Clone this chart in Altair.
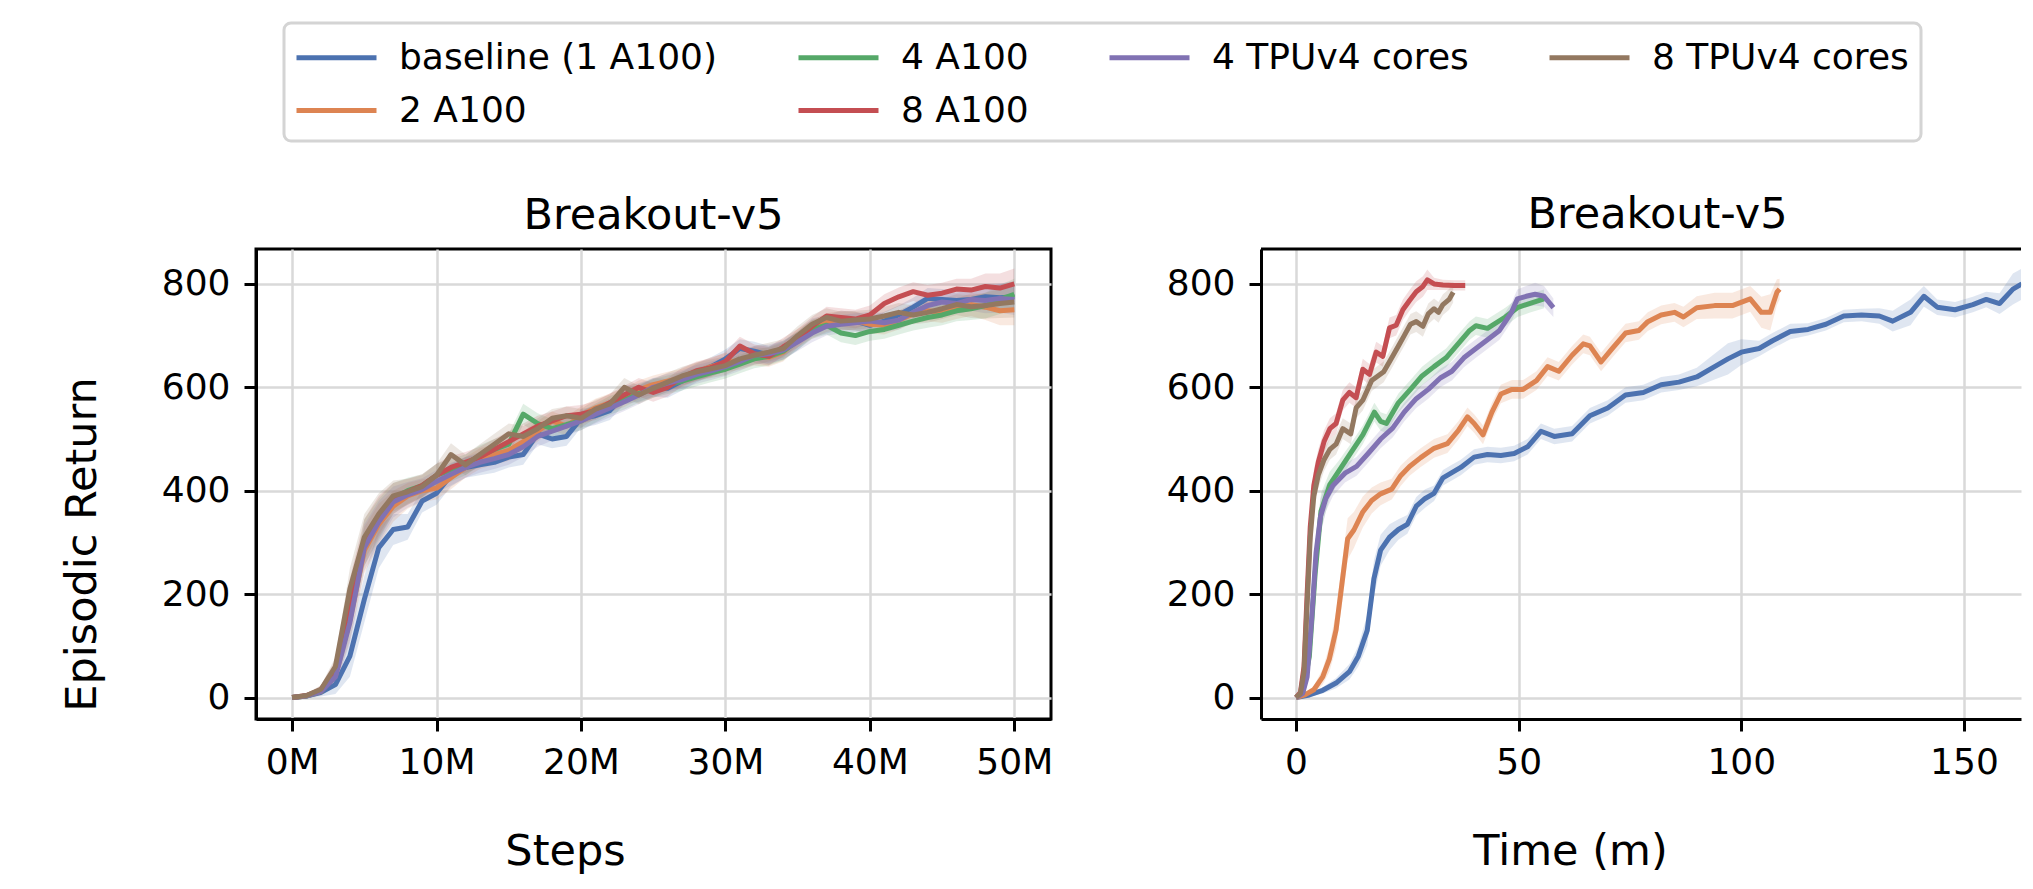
import altair as alt
import pandas as pd

# ---------------- data ----------------
SERIES = ["baseline (1 A100)", "2 A100", "4 A100", "8 A100", "4 TPUv4 cores", "8 TPUv4 cores"]
COLORS = ["#4C72B0", "#DD8452", "#55A868", "#C44E52", "#8172B3", "#937860"]
# order of the colour domain; Vega fills a 4-column legend so that this order shows
# row 1: baseline, 4 A100, 4 TPUv4, 8 TPUv4 / row 2: 2 A100, 8 A100 (as in the figure)
LEGEND_ORDER = ["baseline (1 A100)", "8 TPUv4 cores", "4 A100", "2 A100", "4 TPUv4 cores", "8 A100"]

STEP_TICKS = [0, 10, 20, 30, 40, 50]
TIME_TICKS = [0, 50, 100, 150]
RETURN_TICKS = [0, 200, 400, 600, 800]

# left panel: episodic return every 1M steps
STEPS_M = list(range(51))
STEP_BASELINE = [0, 3, 10, 25, 80, 190, 290, 325, 330, 380, 395, 430, 445, 450, 455, 465, 470, 510, 500, 505,
                 540, 545, 555, 585, 590, 600, 598, 612, 628, 640, 655, 675, 670, 662, 672, 690, 715, 722, 730, 728,
                 720, 728, 740, 755, 772, 770, 768, 770, 775, 773, 775]
STEP_2A100 = [0, 3, 12, 42, 150, 285, 335, 370, 390, 400, 405, 425, 445, 462, 470, 478, 495, 515, 535, 525,
              545, 560, 570, 580, 595, 605, 612, 618, 630, 640, 648, 652, 660, 658, 668, 695, 712, 725, 730, 728,
              722, 720, 730, 742, 748, 745, 752, 760, 755, 748, 750]
STEP_4A100 = [0, 3, 13, 45, 160, 300, 345, 385, 400, 410, 430, 440, 450, 468, 480, 490, 548, 530, 520, 528,
              535, 550, 565, 575, 588, 598, 605, 612, 620, 628, 635, 645, 655, 660, 670, 690, 712, 720, 705, 700,
              708, 712, 720, 728, 735, 740, 748, 752, 758, 770, 780]
STEP_8A100 = [0, 4, 15, 55, 190, 300, 350, 385, 398, 410, 430, 445, 455, 465, 480, 495, 510, 525, 535, 545,
              548, 555, 570, 585, 600, 590, 600, 620, 632, 638, 650, 680, 665, 660, 678, 695, 718, 738, 735, 732,
              740, 762, 775, 785, 778, 782, 790, 788, 795, 792, 800]
STEP_4TPU = [0, 3, 12, 40, 145, 290, 340, 378, 392, 402, 418, 432, 445, 455, 462, 470, 485, 505, 515, 525,
             535, 548, 560, 572, 585, 600, 608, 615, 625, 632, 640, 650, 662, 665, 672, 688, 705, 718, 722, 725,
             728, 725, 730, 745, 758, 765, 762, 770, 768, 772, 770]
STEP_8TPU = [0, 4, 16, 60, 210, 310, 355, 390, 398, 408, 430, 470, 450, 470, 490, 510, 505, 520, 540, 545,
             540, 558, 568, 600, 585, 598, 610, 622, 630, 636, 642, 655, 662, 668, 675, 700, 722, 735, 728, 730,
             732, 738, 745, 740, 745, 752, 760, 756, 758, 762, 765]
STEP_SPREAD = [0, 4, 8, 18, 40, 45, 40, 30, 25, 22, 22, 22, 20, 20, 20, 20, 20, 20, 18, 18,
               18, 18, 18, 18, 18, 18, 18, 18, 18, 18, 18, 18, 18, 18, 18, 18, 18, 18, 18, 18,
               18, 18, 18, 18, 20, 20, 20, 22, 25, 28, 30]

# right panel: episodic return against wall-clock minutes
T_BASELINE = [0, 3, 6, 9, 12, 14, 16, 17.5, 19, 21, 23, 25, 27, 29, 31, 33, 35, 37, 40, 43,
              46, 49, 52, 55, 58, 62, 66, 70, 74, 78, 82, 86, 90, 94, 97, 100, 104, 107, 111, 115,
              119, 123, 127, 131, 134, 138, 141, 144, 148, 152, 155, 158, 161, 163]
R_BASELINE = [0, 5, 14, 28, 50, 80, 130, 230, 285, 310, 325, 335, 370, 385, 395, 425, 435, 445, 465, 470,
              468, 472, 485, 515, 505, 510, 545, 560, 585, 590, 605, 610, 620, 640, 655, 668, 675, 690, 708, 712,
              722, 738, 740, 738, 728, 745, 776, 755, 750, 760, 770, 762, 790, 800]
S_BASELINE = [0, 3, 6, 10, 15, 20, 30, 35, 30, 25, 20, 18, 18, 18, 15, 15, 15, 15, 15, 15,
              15, 15, 15, 15, 15, 15, 15, 15, 15, 15, 15, 15, 18, 25, 30, 25, 15, 15, 15, 12,
              12, 12, 12, 15, 20, 25, 20, 15, 15, 15, 15, 20, 30, 30]

T_2A100 = [0, 2, 4, 6, 7.5, 9, 10.3, 11.6, 13, 15, 17, 19, 21.5, 23.5, 25.5, 28, 31, 34, 36.5, 38.5,
           40, 42, 44, 46, 48.5, 51, 54, 56.5, 59, 62, 64.5, 66, 68.5, 71, 74, 77, 79, 82, 85, 87,
           90, 94, 98, 102, 104.5, 106.5, 108, 108.6]
R_2A100 = [0, 5, 15, 40, 75, 131, 219, 307, 324, 359, 381, 394, 403, 429, 447, 464, 482, 491, 517, 543,
           530, 508, 552, 587, 596, 596, 613, 640, 631, 662, 684, 680, 649, 675, 705, 710, 727, 740, 745, 736,
           754, 758, 758, 771, 745, 745, 784, 790]
S_2A100 = [0, 3, 8, 15, 25, 35, 40, 40, 35, 30, 25, 22, 20, 20, 18, 18, 18, 18, 18, 18,
           18, 18, 18, 18, 18, 18, 18, 18, 18, 18, 18, 18, 18, 18, 18, 18, 18, 18, 18, 20,
           22, 25, 25, 25, 30, 35, 25, 20]

T_4A100 = [0, 1.5, 3, 4.3, 5.6, 7.6, 9.6, 12.3, 15, 17.6, 19, 20.3, 23, 25.7, 28.3, 31, 33.7, 36.4, 39, 40.4,
           43, 47, 49.7, 52.4, 55.7]
R_4A100 = [0, 10, 80, 240, 360, 412, 438, 473, 508, 552, 534, 530, 570, 596, 622, 640, 657, 684, 710, 719,
           714, 736, 754, 762, 771]
S_4A100 = [0, 5, 20, 35, 35, 25, 20, 18, 18, 18, 18, 18, 18, 18, 18, 18, 18, 18, 18, 18,
           18, 18, 18, 18, 18]

T_8A100 = [0, 1, 1.8, 2.5, 3.2, 4, 5, 6.3, 7.6, 9, 10.5, 12, 13.5, 15, 16.5, 18, 19.5, 21, 22.5, 24,
           25.5, 27, 28.5, 29.5, 31, 33, 35.5, 38]
R_8A100 = [0, 10, 60, 200, 330, 410, 455, 495, 520, 530, 575, 590, 580, 635, 625, 668, 660, 715, 720, 750,
           768, 785, 795, 808, 800, 798, 797, 797]
S_8A100 = [0, 5, 20, 35, 35, 30, 25, 22, 20, 20, 20, 20, 20, 20, 20, 20, 20, 20, 20, 20,
           20, 20, 20, 20, 12, 10, 10, 10]

T_4TPU = [0, 1.5, 2.5, 3.5, 4.5, 5.5, 6.7, 8.3, 11, 13.6, 16.3, 19, 21.7, 24.3, 27, 29.7, 32.4, 35, 37.7, 40.4,
          43, 45.7, 48.4, 49.7, 51.7, 53.7, 55.7, 57.8]
R_4TPU = [0, 8, 40, 150, 280, 350, 385, 410, 434, 447, 473, 500, 521, 552, 578, 596, 618, 631, 657, 675,
          692, 710, 745, 771, 776, 780, 776, 754]
S_4TPU = [0, 5, 15, 30, 35, 35, 25, 20, 18, 18, 18, 18, 18, 18, 18, 18, 18, 18, 18, 18,
          18, 18, 18, 18, 20, 22, 20, 18]

T_8TPU = [0, 1, 1.8, 2.5, 3.2, 4, 5, 6.3, 7.6, 9, 10.5, 12.3, 13.5, 15, 17, 19.7, 21.7, 23, 24.3, 25.7,
          27, 28.5, 29.7, 31, 32, 33, 34.4, 35.3]
R_8TPU = [0, 8, 50, 180, 310, 390, 430, 460, 480, 490, 520, 510, 560, 575, 613, 630, 660, 680, 700, 722,
          727, 718, 742, 752, 745, 760, 770, 784]
S_8TPU = [0, 5, 18, 32, 35, 30, 25, 22, 20, 20, 20, 20, 20, 20, 20, 20, 20, 20, 20, 20,
          20, 20, 20, 20, 20, 20, 20, 20]

# ---------------- tables ----------------
step_vals = [STEP_BASELINE, STEP_2A100, STEP_4A100, STEP_8A100, STEP_4TPU, STEP_8TPU]
left_rows = []
for name, vals in zip(SERIES, step_vals):
    for x, v, s in zip(STEPS_M, vals, STEP_SPREAD):
        left_rows.append({"series": name, "x": x, "y": v, "lo": v - s, "hi": v + s})
left_df = pd.DataFrame(left_rows)

time_sets = [(T_BASELINE, R_BASELINE, S_BASELINE), (T_2A100, R_2A100, S_2A100),
             (T_4A100, R_4A100, S_4A100), (T_8A100, R_8A100, S_8A100),
             (T_4TPU, R_4TPU, S_4TPU), (T_8TPU, R_8TPU, S_8TPU)]
right_rows = []
for name, (ts, rs, ss) in zip(SERIES, time_sets):
    for x, v, s in zip(ts, rs, ss):
        right_rows.append({"series": name, "x": x, "y": v, "lo": v - s, "hi": v + s})
right_df = pd.DataFrame(right_rows)

# ---------------- styling ----------------
FONT = "DejaVu Sans"
LEGEND_COLORS = [COLORS[SERIES.index(s)] for s in LEGEND_ORDER]
# line colours (legend) and band colours use differently ordered domains so that
# the disabled band legend is not merged into (and does not switch off) the line legend
color_scale = alt.Scale(domain=LEGEND_ORDER, range=LEGEND_COLORS)
fill_scale = alt.Scale(domain=SERIES, range=COLORS)

legend = alt.Legend(
    title=None, orient="none", legendX=28, legendY=-226, columns=4,
    symbolType="M-1,0H3", symbolSize=1600, symbolStrokeWidth=5, symbolOffset=-2,
    labelOffset=60, columnPadding=70, rowPadding=12, padding=12,
    labelFont=FONT, labelFontSize=36, labelColor="black", labelLimit=1000,
    strokeColor="#d4d4d4", fillColor="white", cornerRadius=7,
)

y_dom = [-41.5, 867.5]
W_LEFT, W_RIGHT, H = 795, 760, 470


def panel(df, x_domain, x_ticks, x_title, label_expr, y_title):
    if y_title:
        y_axis = alt.Axis(values=RETURN_TICKS, title=y_title, titleX=-161, titleY=295,
                          titleAngle=270, titleAlign="center", titleBaseline="alphabetic")
    else:
        y_axis = alt.Axis(values=RETURN_TICKS, title=None)
    x_axis = alt.Axis(values=x_ticks, title=x_title, labelExpr=label_expr,
                      titleX=309, titleY=145, titleAngle=0, titleAlign="center",
                      titleBaseline="alphabetic")
    xs = alt.Scale(domain=x_domain, nice=False, zero=False)
    ys = alt.Scale(domain=y_dom, nice=False, zero=False)
    base = alt.Chart(df)
    band = base.mark_area(opacity=0.18, clip=True).encode(
        x=alt.X("x:Q", scale=xs, axis=x_axis),
        y=alt.Y("lo:Q", scale=ys, axis=y_axis),
        y2="hi:Q",
        fill=alt.Fill("series:N", scale=fill_scale, legend=None),
        detail="series:N",
    )
    line = base.mark_line(strokeWidth=5, strokeJoin="round", clip=True).encode(
        x=alt.X("x:Q", scale=xs),
        y=alt.Y("y:Q", scale=ys),
        color=alt.Color("series:N", scale=color_scale, legend=legend),
    )
    return band, line


title_kw = dict(fontSize=43, font=FONT, fontWeight="normal", color="black",
                anchor="middle", frame="group", baseline="alphabetic", offset=20, dy=43)

lb, ll = panel(left_df, [-2.5, 52.54], STEP_TICKS, "Steps", "datum.value + 'M'", "Episodic Return")
left = alt.layer(lb, ll).properties(
    width=W_LEFT, height=H,
    title=alt.TitleParams("Breakout-v5", **title_kw),
)

rb, rl = panel(right_df, [-7.86, 162.81], TIME_TICKS, "Time (m)", "datum.label", None)
top_rule = alt.Chart(pd.DataFrame({"a": [0]})).mark_rule(color="black", strokeWidth=3).encode(
    x=alt.value(0), x2=alt.value("width"), y=alt.value(0)
)
right = alt.layer(rb, rl, top_rule).properties(
    width=W_RIGHT, height=H,
    view=alt.ViewBackground(strokeOpacity=0),
    title=alt.TitleParams("Breakout-v5", dx=16.5, **title_kw),
)

chart = alt.hconcat(left, right, spacing=210, bounds="flush").properties(
    padding={"left": 51, "top": 13, "right": 0, "bottom": 0},
    background="white",
).configure_axis(
    labelFont=FONT, labelFontSize=36, labelColor="black", labelPadding=14,
    titleFont=FONT, titleFontSize=43, titleFontWeight="normal", titleColor="black",
    tickSize=12, tickWidth=3, tickColor="black",
    domain=True, domainColor="black", domainWidth=3,
    grid=True, gridColor="#d9d9d9", gridWidth=2.5,
).configure_view(
    stroke="black", strokeWidth=3
).configure_legend(
    strokeWidth=3
)

chart.save("out.html", embed_options={"renderer": "svg", "actions": False})
